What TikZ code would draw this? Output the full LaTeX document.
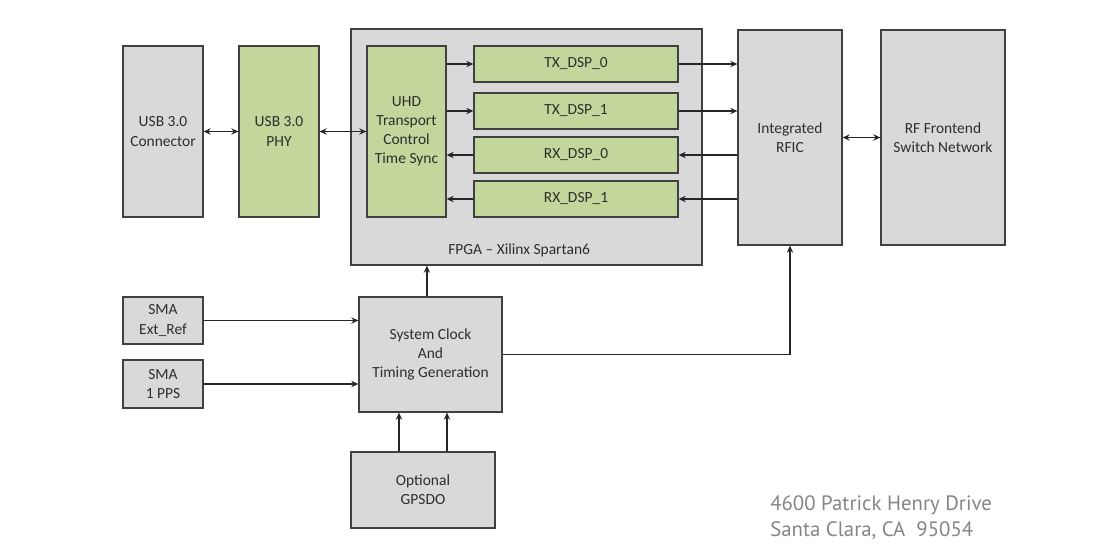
\documentclass[tikz,border=0pt]{standalone}
\usepackage{fontspec}
\setmainfont{Carlito}
\newfontfamily\addrfont{PT Sans}
\usetikzlibrary{arrows.meta}

\definecolor{boxgray}{HTML}{D9D9D9}
\definecolor{boxgreen}{HTML}{C3D69B}
\definecolor{edgegray}{HTML}{404040}
\definecolor{textgray}{HTML}{2E2E2E}
\definecolor{addrgray}{HTML}{858585}

\begin{document}
\begin{tikzpicture}[
        x=0.025cm, y=-0.025cm,
        font=\fontsize{11}{13.6}\selectfont,
        graybox/.style={
            rectangle, draw=edgegray, line width=0.9pt,
            fill=boxgray, text=textgray, inner sep=0pt,
            align=center
        },
        greenbox/.style={
            graybox, fill=boxgreen
        },
        arr/.style={-{Stealth[length=5pt,width=4.5pt]}, line width=1pt, draw=black!85},
        biarr/.style={{Stealth[length=5pt,width=4.5pt]}-{Stealth[length=5pt,width=4.5pt]}, line width=1pt, draw=black!85}
    ]

    \useasboundingbox (0,0) rectangle (1113,552);

    % FPGA container
    \node[graybox, minimum width=8.775cm, minimum height=5.9cm] (fpga) at (526.5,147) {};
    \node[text=textgray, anchor=west, inner sep=0pt] (fpgalbl) at (448,250) {FPGA -- Xilinx Spartan6};

    % USB chain on left
    \node[graybox, minimum width=2.0cm, minimum height=4.275cm] (usbconn) at (163,131.5) {USB 3.0\\Connector};
    \node[greenbox, minimum width=2.0cm, minimum height=4.275cm] (usbphy) at (279,131.5) {USB 3.0\\PHY};
    \node[greenbox, minimum width=1.975cm, minimum height=4.275cm] (uhd) at (406.5,131.5) {UHD\\Transport\\Control\\Time Sync};

    % DSP chains
    \node[greenbox, minimum width=5.1cm, minimum height=0.9cm] (tx0) at (576,64) {TX\_DSP\_0};
    \node[greenbox, minimum width=5.1cm, minimum height=0.9cm] (tx1) at (576,111) {TX\_DSP\_1};
    \node[greenbox, minimum width=5.1cm, minimum height=0.9cm] (rx0) at (576,155) {RX\_DSP\_0};
    \node[greenbox, minimum width=5.1cm, minimum height=0.9cm] (rx1) at (576,199) {RX\_DSP\_1};

    % RF side
    \node[graybox, minimum width=2.6cm, minimum height=5.375cm] (rfic) at (790,137.5) {Integrated\\RFIC};
    \node[graybox, minimum width=3.1cm, minimum height=5.375cm] (rffe) at (943,137.5) {RF Frontend\\Switch Network};

    % Clocking
    \node[graybox, minimum width=2.0cm, minimum height=1.175cm] (smaref) at (163,320.5) {SMA\\Ext\_Ref};
    \node[graybox, minimum width=2.0cm, minimum height=1.2cm] (smapps) at (163,384) {SMA\\1 PPS};
    \node[graybox, minimum width=3.575cm, minimum height=2.875cm] (sysclk) at (430.5,354.5) {System Clock\\And\\Timing Generation};
    \node[graybox, minimum width=3.6cm, minimum height=1.9cm] (gpsdo) at (423,490) {Optional\\GPSDO};

    % USB links
    \draw[biarr] (usbconn.east) -- (usbphy.west);
    \draw[biarr] (usbphy.east) -- (uhd.west);

    % UHD to/from DSPs
    \draw[arr] (uhd.east |- tx0.west) -- (tx0.west);
    \draw[arr] (uhd.east |- tx1.west) -- (tx1.west);
    \draw[arr] (rx0.west) -- (uhd.east |- rx0.west);
    \draw[arr] (rx1.west) -- (uhd.east |- rx1.west);

    % DSPs to/from RFIC
    \draw[arr] (tx0.east) -- (rfic.west |- tx0.east);
    \draw[arr] (tx1.east) -- (rfic.west |- tx1.east);
    \draw[arr] (rfic.west |- rx0.east) -- (rx0.east);
    \draw[arr] (rfic.west |- rx1.east) -- (rx1.east);
    \draw[biarr] (rfic.east) -- (rffe.west);

    % Clock distribution
    \draw[arr] (smaref.east) -- (sysclk.west |- smaref.east);
    \draw[arr] (smapps.east) -- (sysclk.west |- smapps.east);
    \draw[arr] ([xshift=-0.09cm]sysclk.north) -- ([xshift=-0.09cm]sysclk.north |- fpga.south);
    \draw[arr] ([xshift=-0.6cm]gpsdo.north) -- ([xshift=-0.6cm]gpsdo.north |- sysclk.south);
    \draw[arr] ([xshift=0.6cm]gpsdo.north) -- ([xshift=0.6cm]gpsdo.north |- sysclk.south);
    \draw[arr] (sysclk.east) -- (rfic.south |- sysclk.east) -- (rfic.south);

    % Address
    \node[anchor=west, align=left, text=addrgray, inner sep=0pt,
          font=\addrfont\fontsize{14.8}{18}\selectfont] (addr) at (770,517.5)
        {4600 Patrick Henry Drive\\Santa Clara, CA\ \ 95054};

\end{tikzpicture}
\end{document}
